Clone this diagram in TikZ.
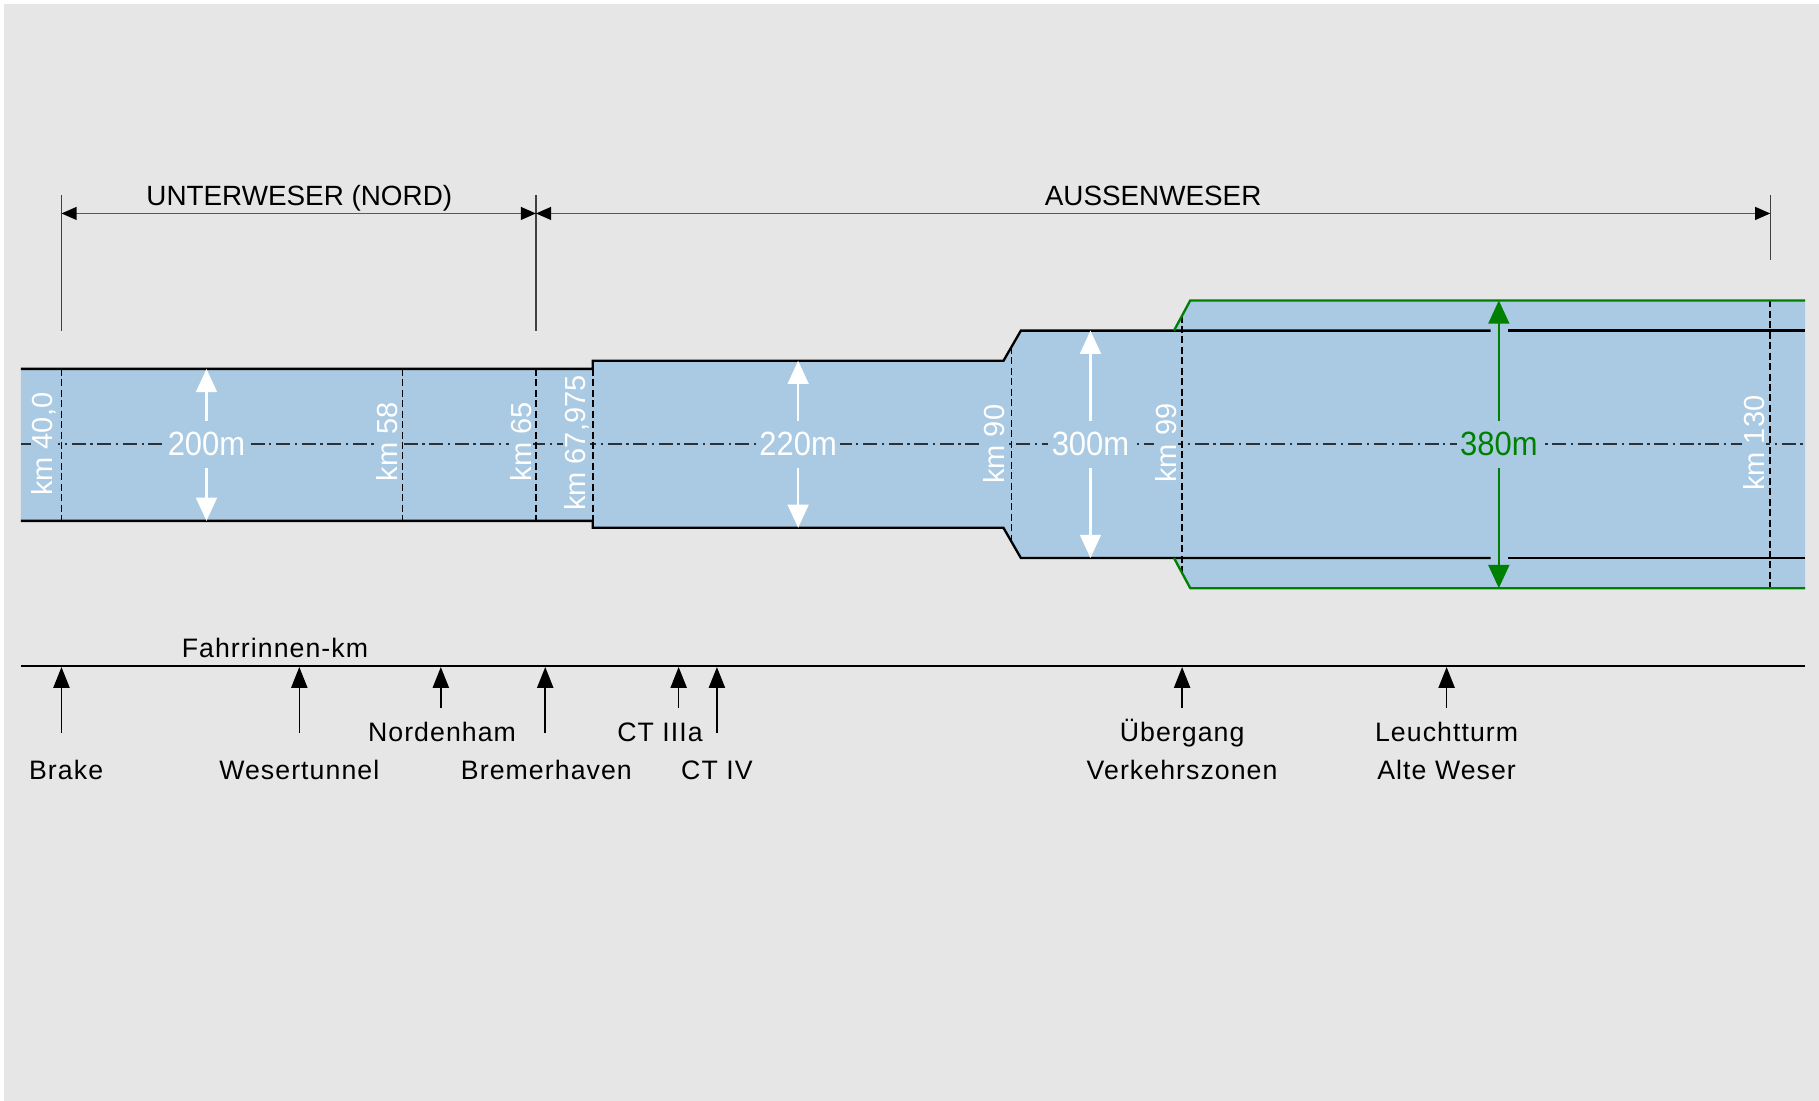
\documentclass[tikz,border=0pt]{standalone}
\usepackage{fontspec}
\setmainfont{Liberation Sans}
\newfontfamily\lblfont[LetterSpace=4]{Liberation Sans}
\newfontfamily\widthfont[FakeStretch=0.92]{Liberation Sans}
\usetikzlibrary{arrows.meta}
\definecolor{bgc}{RGB}{230,230,230}
\definecolor{water}{RGB}{169,202,226}
\definecolor{dgreen}{RGB}{0,128,0}
\definecolor{cline}{RGB}{45,50,55}
\begin{document}
\begin{tikzpicture}[x=1pt,y=-1pt,
  edge/.style={black, line width=2pt, line join=miter},
  gedge/.style={dgreen, line width=2pt, line join=miter},
  kmline/.style={black, line width=1.5pt, dash pattern=on 6pt off 3pt},
  centerl/.style={cline, line width=1.4pt, dash pattern=on 12pt off 4pt on 2pt off 4pt},
  kmlbl/.style={text=white, fill=water, rotate=90, inner sep=1pt, font=\fontsize{25}{25}\selectfont},
  wlbl/.style={fill=water, inner xsep=3pt, inner ysep=10pt, font=\widthfont\fontsize{29}{29}\selectfont},
  warrow/.style={line width=1.8pt, {Triangle[length=20pt,width=18pt]}-{Triangle[length=20pt,width=18pt]}},
  extline/.style={draw=black!75, line width=1.3pt},
  dimarrow/.style={black!65, line width=1.5pt, {Triangle[length=13pt,width=11pt,color=black]}-{Triangle[length=13pt,width=11pt,color=black]}},
  toplbl/.style={anchor=base, font=\fontsize{24}{24}\selectfont, inner sep=0pt},
  ptr/.style={black, line width=1.3pt, -{Triangle[length=18pt,width=14pt]}},
  botlbl/.style={anchor=base, font=\lblfont\fontsize{23}{23}\selectfont, inner sep=0pt}
]
\useasboundingbox (0,0) rectangle (1568,949.07);
% background
\fill[white] (0,0) rectangle (1568,949.07);
\fill[bgc] (3.5,3.5) rectangle (1568,949.07);

% water
\fill[water] (18,318) -- (511,318) -- (511,311) -- (865,311) -- (880,285) -- (1012,285) -- (1026,259) -- (1556,259)
  -- (1556,507) -- (1026,507) -- (1012,481) -- (880,481) -- (865,455) -- (511,455) -- (511,449) -- (18,449) -- cycle;

% centre line
\coordinate (cl1) at (18,383);
\coordinate (cl2) at (1556,383);
\draw[centerl] (cl1) -- (cl2);

% km lines
\coordinate (k1t) at (53,318);   \coordinate (k1b) at (53,449);
\coordinate (k2t) at (347,318);  \coordinate (k2b) at (347,449);
\coordinate (k3t) at (462,318);  \coordinate (k3b) at (462,449);
\coordinate (k4t) at (511,318);  \coordinate (k4b) at (511,449);
\coordinate (k5t) at (872,299);  \coordinate (k5b) at (872,467);
\coordinate (k6t) at (1019,272); \coordinate (k6b) at (1019,494);
\coordinate (k7t) at (1526,259); \coordinate (k7b) at (1526,507);
\foreach \k in {1,...,7} \draw[kmline] (k\k t) -- (k\k b);

% channel edges
\draw[edge] (18,318) -- (511,318) -- (511,311) -- (865,311) -- (880,285) -- (1285,285);
\draw[edge] (1300,285) -- (1556,285);
\draw[edge] (18,449) -- (511,449) -- (511,455) -- (865,455) -- (880,481) -- (1285,481);
\draw[edge] (1300,481) -- (1556,481);
\draw[gedge] (1012,285) -- (1026,259) -- (1556,259);
\draw[gedge] (1012,481) -- (1026,507) -- (1556,507);

% width arrows
\coordinate (w1t) at (178,318); \coordinate (w1b) at (178,449);
\coordinate (w2t) at (688,311); \coordinate (w2b) at (688,455);
\coordinate (w3t) at (940,285); \coordinate (w3b) at (940,481);
\coordinate (w4t) at (1292,259); \coordinate (w4b) at (1292,507);
\draw[warrow, white] (w1t) -- (w1b);
\draw[warrow, white] (w2t) -- (w2b);
\draw[warrow, white] (w3t) -- (w3b);
\draw[warrow, dgreen] (w4t) -- (w4b);
\node[wlbl, text=white] (w1) at (178,383) {200m};
\node[wlbl, text=white] (w2) at (688,383) {220m};
\node[wlbl, text=white] (w3) at (940,383) {300m};
\node[wlbl, text=dgreen] (w4) at (1292,383) {380m};

% km labels
\node[kmlbl] (km1) at (38,383) {km 40,0};
\node[kmlbl] (km2) at (334,381) {km 58};
\node[kmlbl] (km3) at (449,381) {km 65};
\node[kmlbl] (km4) at (497,382) {km 67,975};
\node[kmlbl] (km5) at (857,383) {km 90};
\node[kmlbl] (km6) at (1005,382) {km 99};
\node[kmlbl] (km7) at (1512,382) {km 130};

% top dimensions
\coordinate (e1t) at (53,168);   \coordinate (e1b) at (53,285);
\coordinate (e2t) at (462,168);  \coordinate (e2b) at (462,285);
\coordinate (e3t) at (1526,168); \coordinate (e3b) at (1526,224);
\draw[extline] (e1t) -- (e1b);
\draw[extline] (e2t) -- (e2b);
\draw[extline] (e3t) -- (e3b);
\coordinate (d1) at (53,184); \coordinate (d2) at (462,184); \coordinate (d3) at (1526,184);
\draw[dimarrow] (d1) -- (d2);
\draw[dimarrow] (d2) -- (d3);
\node[toplbl] (t1) at (258,177) {UNTERWESER (NORD)};
\node[toplbl] (t2) at (994,177) {AUSSENWESER};

% km axis
\coordinate (ax1) at (18,574); \coordinate (ax2) at (1556,574);
\draw[black, line width=2.2pt] (ax1) -- (ax2);
\node[botlbl] (fk) at (237,567) {Fahrrinnen-km};

\foreach \n/\x/\y in {1/53/632, 2/258/632, 3/380/610, 4/470/632, 5/585/610, 6/618/632, 7/1019/610, 8/1247/610}{
  \coordinate (p\n b) at (\x,\y);
  \coordinate (p\n t) at (\x,575);
  \draw[ptr] (p\n b) -- (p\n t);
}

\node[botlbl] (l1) at (57,672) {Brake};
\node[botlbl] (l2) at (258,672) {Wesertunnel};
\node[botlbl] (l3) at (381,639) {Nordenham};
\node[botlbl] (l4) at (471,672) {Bremerhaven};
\node[botlbl] (l5) at (569,639) {CT IIIa};
\node[botlbl] (l6) at (618,672) {CT IV};
\node[botlbl] (l7a) at (1019,639) {Übergang};
\node[botlbl] (l7b) at (1019,672) {Verkehrszonen};
\node[botlbl] (l8a) at (1247,639) {Leuchtturm};
\node[botlbl] (l8b) at (1247,672) {Alte Weser};
\end{tikzpicture}
\end{document}
